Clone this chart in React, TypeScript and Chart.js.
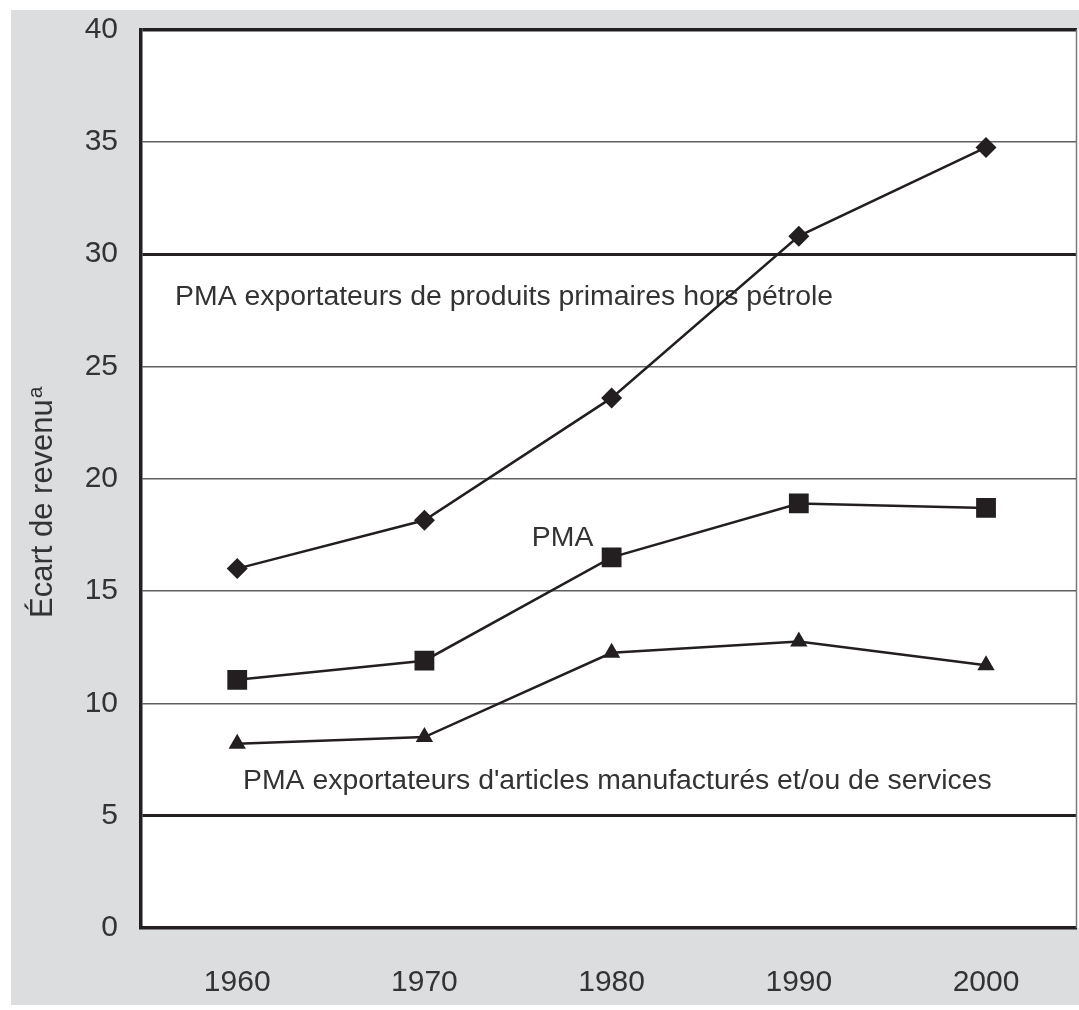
import { useEffect, useRef } from "react";
import { Chart, registerables } from "chart.js";

Chart.register(...registerables);

// ---- data ----
const years = [1960, 1970, 1980, 1990, 2000];
const primaryExporters = [16.0, 18.15, 23.6, 30.8, 34.75];
const allLDCs = [11.05, 11.9, 16.5, 18.9, 18.7];
const manufExporters = [8.2, 8.5, 12.25, 12.75, 11.7];
const yTickValues = [0, 5, 10, 15, 20, 25, 30, 35, 40];
const thickGridValues = [5, 30, 40];
const annotationTexts = [
  "PMA exportateurs de produits primaires hors pétrole",
  "PMA",
  "PMA exportateurs d'articles manufacturés et/ou de services",
];
const annotationX = [1956.68, 1975.74, 1960.31];
const annotationY = [27.75, 17.0, 6.2];
const yTitle = "Écart de revenu";
const yTitleSup = "a";

const FONT = '"Liberation Sans", Arial, Helvetica, sans-serif';
const INK = "#231f20";
const TEXT = "#333333";

const decorPlugin = {
  id: "decor",
  beforeDraw(chart: any) {
    const { ctx, chartArea } = chart;
    ctx.save();
    ctx.fillStyle = "#ffffff";
    ctx.fillRect(chartArea.left, chartArea.top, chart.width - chartArea.left, chartArea.bottom - chartArea.top);
    ctx.restore();
  },
  afterDatasetsDraw(chart: any) {
    const { ctx, chartArea } = chart;
    const xs = chart.scales.x;
    const ys = chart.scales.y;
    ctx.save();
    // right border
    ctx.strokeStyle = "#7a7a7a";
    ctx.lineWidth = 1.5;
    ctx.beginPath();
    ctx.moveTo(chartArea.right - 0.5, chartArea.top);
    ctx.lineTo(chartArea.right - 0.5, chartArea.bottom);
    ctx.stroke();
    // annotations
    ctx.fillStyle = TEXT;
    ctx.font = `28.4px ${FONT}`;
    ctx.textAlign = "left";
    ctx.textBaseline = "alphabetic";
    annotationTexts.forEach((t, i) => {
      ctx.fillText(t, xs.getPixelForValue(annotationX[i]), ys.getPixelForValue(annotationY[i]));
    });
    // y title
    ctx.translate(41, 608);
    ctx.rotate(-Math.PI / 2);
    ctx.font = `31px ${FONT}`;
    ctx.fillText(yTitle, 0, 0);
    const w = ctx.measureText(yTitle).width;
    ctx.font = `21px ${FONT}`;
    ctx.fillText(yTitleSup, w + 1, -10);
    ctx.restore();
  },
};

export default function App() {
  const ref = useRef<HTMLCanvasElement | null>(null);
  useEffect(() => {
    if (!ref.current) return;
    const mk = (data: number[], style: string, r: number) => ({
      data: years.map((y, i) => ({ x: y, y: data[i] })),
      borderColor: INK,
      backgroundColor: INK,
      borderWidth: 2.5,
      pointStyle: style,
      pointRadius: r,
      pointHoverRadius: r,
      pointBorderWidth: 0,
      pointBackgroundColor: INK,
      tension: 0,
    });
    const chart = new Chart(ref.current, {
      type: "line",
      data: {
        datasets: [
          mk(primaryExporters, "rectRot", 10.5),
          mk(allLDCs, "rect", 14),
          mk(manufExporters, "triangle", 10),
        ] as any,
      },
      plugins: [decorPlugin],
      options: {
        animation: false,
        responsive: false,
        events: [],
        layout: { autoPadding: false, padding: { top: 19.5, right: 2, left: 0, bottom: 0 } },
        plugins: { legend: { display: false }, tooltip: { enabled: false } },
        scales: {
          x: {
            type: "linear",
            min: 1954.86,
            max: 2004.86,
            afterBuildTicks: (s: any) => {
              s.ticks = years.map((v) => ({ value: v }));
            },
            afterFit: (s: any) => {
              s.height = 77;
              s.paddingLeft = 0;
              s.paddingRight = 0;
            },
            grid: { display: true, drawTicks: false, lineWidth: 0 },
            border: { display: true, color: INK, width: 3.5 },
            ticks: {
              color: TEXT,
              font: { family: FONT, size: 30 },
              padding: 37,
              maxRotation: 0,
              autoSkip: false,
              callback: (v: any) => String(v),
            },
          },
          y: {
            type: "linear",
            min: 0,
            max: 40,
            afterBuildTicks: (s: any) => {
              s.ticks = yTickValues.map((v) => ({ value: v }));
            },
            afterFit: (s: any) => {
              s.width = 130;
              s.paddingTop = 0;
              s.paddingBottom = 0;
            },
            grid: {
              drawTicks: false,
              color: (c: any) => (thickGridValues.includes(c.tick?.value) ? INK : "#5f5f5f"),
              lineWidth: (c: any) =>
                c.tick?.value === 0 ? 0 : c.tick?.value === 40 ? 3.5 : thickGridValues.includes(c.tick?.value) ? 3 : 1.6,
            },
            border: { display: true, color: INK, width: 3.5 },
            ticks: {
              color: TEXT,
              font: { family: FONT, size: 30 },
              padding: 23,
              autoSkip: false,
              callback: (v: any) => String(v),
            },
          },
        },
      },
    });
    return () => chart.destroy();
  }, []);
  return (
    <div
      style={{
        position: "fixed",
        left: 11,
        top: 10,
        width: 1068,
        height: 995,
        background: "#dcdddf",
      }}
    >
      <canvas ref={ref} width={1068} height={995} style={{ display: "block" }} />
    </div>
  );
}
